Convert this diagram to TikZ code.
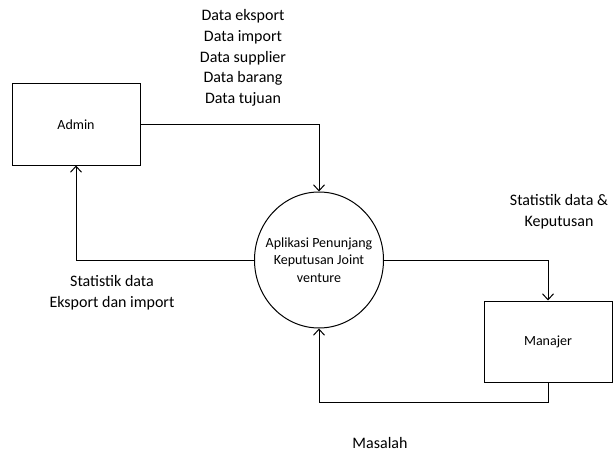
\documentclass[tikz,border=0pt]{standalone}
\usepackage{fontspec}
\setmainfont{Carlito}
\usepackage{tikz}
\usetikzlibrary{arrows.meta,shapes.geometric}

\begin{document}
\begin{tikzpicture}[
    x=1pt, y=1pt,
    entitas/.style={rectangle,draw=black,line width=1pt,minimum width=128pt,
      minimum height=81pt,align=center,font=\fontsize{14}{17.5}\selectfont},
    proses/.style={ellipse,draw=black,line width=1pt,minimum width=129pt,
      minimum height=136pt,inner xsep=-10pt,inner ysep=0pt,align=center,
      font=\fontsize{14}{17.5}\selectfont},
    keterangan/.style={inner sep=0pt,align=center,font=\fontsize{16}{20.7}\selectfont},
    alur/.style={-{Straight Barb[length=6pt,width=11pt]},line width=1pt}
  ]
    \useasboundingbox (0,0) rectangle (614,-452);

    \node[entitas] (admin) at (76,-124.5) {Admin};
    \node[proses] (app) at (319,-260) {Aplikasi Penunjang\\Keputusan Joint\\venture};
    \node[entitas] (manajer) at (548,-341.5) {Manajer};
    \coordinate (bawah) at (319,-402);

    \draw[alur] (admin.east) -| (app.north);
    \draw[alur] (app.west) -| (admin.south);
    \draw[alur] (app.east) -| (manajer.north);
    \draw[alur] (manajer.south) |- (bawah) -- (app.south);

    \node[keterangan] (datainput) at (243,-58) {Data eksport\\Data import\\Data supplier\\Data barang\\Data tujuan};
    \node[keterangan] (statadmin) at (112,-293) {Statistik data\\Eksport dan import};
    \node[keterangan] (statmanajer) at (559,-212) {Statistik data \&\\Keputusan};
    \node[keterangan] (masalah) at (380,-443) {Masalah};
  \end{tikzpicture}
\end{document}
